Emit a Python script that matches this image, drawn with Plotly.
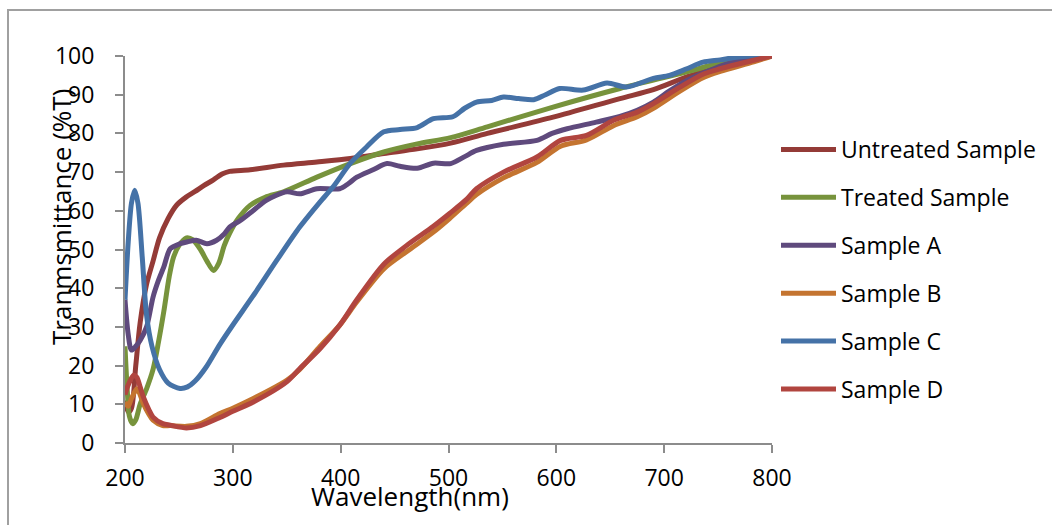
import plotly.graph_objects as go

# ---------------- data ----------------
wl_untreated = [200, 203, 206, 210, 214, 220, 226, 232, 240, 248, 257, 265, 273, 282, 290, 297, 316, 347, 378, 409, 440, 471, 502, 536, 597, 659, 690, 721, 752, 783, 800]
t_untreated = [11, 8, 9, 20, 31, 41, 47, 53, 58, 61.5, 63.6, 65, 66.5, 68, 69.5, 70.2, 70.6, 71.8, 72.6, 73.5, 74.8, 76, 77.5, 80, 84.2, 89, 91.3, 94.6, 97.2, 98.9, 100]

wl_treated = [200, 202, 204, 207, 210, 214, 220, 226, 231, 236, 241, 245, 250, 257, 263, 270, 276, 282, 287, 292, 297, 305, 316, 330, 347, 378, 409, 440, 471, 502, 536, 597, 659, 721, 767, 800]
t_treated = [25, 14, 7, 5, 6, 10, 14, 19, 26, 34, 43, 48, 51, 53, 52.5, 50, 47, 44.6, 46.5, 51, 54.2, 58, 61.4, 63.5, 64.9, 68.7, 72.2, 75.2, 77.3, 78.9, 81.7, 86.8, 91.6, 95.9, 99.3, 100]

wl_a = [200, 203, 206, 210, 214, 220, 226, 231, 236, 242, 251, 258, 266, 276, 285, 292, 297, 307, 319, 331, 350, 362, 378, 399, 407, 415, 430, 443, 455, 471, 486, 502, 515, 526, 551, 582, 596, 610, 637, 659, 675, 690, 705, 721, 746, 767, 785, 800]
t_a = [37, 28, 24, 25, 26.5, 30, 37.7, 42, 45.5, 50.2, 51.5, 52, 52.4, 51.5, 52.4, 54, 55.8, 57.5, 60.1, 62.7, 64.9, 64.4, 65.7, 65.7, 67, 68.7, 70.6, 72.2, 71.5, 71, 72.3, 72.2, 74, 75.6, 77.2, 78.2, 80, 81.2, 82.9, 84.4, 86, 88.1, 91, 93.7, 96.7, 98.7, 99.5, 100]

wl_b = [200, 203, 206, 211, 214, 217, 222, 226, 235, 242, 257, 270, 288, 300, 319, 350, 362, 381, 399, 415, 440, 464, 486, 501, 517, 526, 551, 582, 604, 628, 653, 675, 690, 715, 737, 752, 783, 800]
t_b = [10.5, 9.5, 11.5, 14, 12.5, 10.2, 7.5, 5.9, 4.5, 4.5, 4.3, 5, 7.6, 9, 11.5, 16.2, 19, 25, 30.4, 36.5, 45, 50, 54.5, 58, 62, 64.2, 68.5, 72.5, 76.7, 78.3, 82, 84.3, 86.5, 91, 94.5, 96, 98.5, 100]

wl_c = [200, 203, 206, 209, 212, 216, 220, 225, 232, 240, 251, 258, 265, 275, 288, 300, 320, 341, 362, 380, 393, 409, 424, 440, 455, 471, 486, 504, 515, 526, 540, 551, 565, 579, 590, 603, 625, 647, 665, 690, 705, 721, 736, 752, 767, 780, 800]
t_c = [37, 52, 62, 65.3, 62, 48, 33, 25, 19, 15.5, 14.1, 14.5, 16, 19.5, 25.5, 30.5, 38.5, 47.3, 55.8, 62, 66.2, 72.3, 76.5, 80.4, 81, 81.5, 83.8, 84.3, 86.5, 88.1, 88.5, 89.4, 89, 88.7, 90, 91.6, 91.2, 93, 92, 94.2, 95, 96.7, 98.4, 99, 99.7, 100, 100]

wl_d = [200, 203, 208, 211, 214, 217, 222, 226, 235, 242, 257, 270, 288, 300, 319, 350, 362, 381, 399, 415, 440, 461, 486, 501, 517, 526, 551, 582, 604, 628, 653, 675, 690, 715, 737, 752, 783, 800]
t_d = [12.5, 15, 17.5, 17, 14.5, 11.9, 8.7, 6.7, 5, 4.6, 3.9, 4.5, 6.6, 8.2, 10.6, 15.8, 19.2, 24.4, 30.4, 37, 46.2, 51, 56, 59.3, 63, 65.7, 70, 73.9, 78.2, 79.5, 83.4, 85.5, 87.7, 92, 95.4, 96.7, 98.9, 100]

series_names = ["Untreated Sample", "Treated Sample", "Sample A", "Sample B", "Sample C", "Sample D"]
series_x = [wl_untreated, wl_treated, wl_a, wl_b, wl_c, wl_d]
series_y = [t_untreated, t_treated, t_a, t_b, t_c, t_d]
series_colors = ["#943B37", "#77933C", "#5F4A7D", "#C47430", "#4572A7", "#B1453F"]

x_ticks = [200, 300, 400, 500, 600, 700, 800]
y_ticks = [0, 10, 20, 30, 40, 50, 60, 70, 80, 90, 100]

FONT = "Open Sans"
W, H = 1052, 525
L, R, T, B = 125, 280, 56, 82

fig = go.Figure()
for i, (name, xs, ys, col) in enumerate(zip(series_names, series_x, series_y, series_colors)):
    fig.add_trace(go.Scatter(
        x=xs, y=ys, name=name, mode="lines",
        line=dict(color=col, width=5, shape="spline", smoothing=0.8),
        legendgroup=f"g{i}",
    ))

pw = W - L - R
ph = H - T - B

def px_x(p):
    return (p - L) / pw

def px_y(p):
    return (H - B - p) / ph

axis_col = "#8C8C8C"
fig.update_layout(
    width=W, height=H,
    margin=dict(l=L, r=R, t=T, b=B, autoexpand=False),
    paper_bgcolor="white", plot_bgcolor="white",
    font=dict(family=FONT, size=23, color="black"),
    showlegend=True,
    legend=dict(
        x=px_x(776), y=px_y(128), xanchor="left", yanchor="top",
        font=dict(family=FONT, size=23, color="black"),
        itemwidth=55, tracegroupgap=15, bgcolor="rgba(0,0,0,0)",
    ),
    xaxis=dict(
        range=[200, 800], tickvals=x_ticks, ticktext=[str(v) for v in x_ticks],
        showgrid=False, zeroline=False, showline=True, linecolor=axis_col, linewidth=2,
        ticks="outside", ticklen=8, tickwidth=2, tickcolor=axis_col,
        tickfont=dict(family=FONT, size=23, color="black"),
        ticklabelstandoff=5,
    ),
    yaxis=dict(
        range=[0, 100], tickvals=y_ticks, ticktext=[str(v) for v in y_ticks],
        showgrid=False, zeroline=False, showline=True, linecolor=axis_col, linewidth=2,
        ticks="outside", ticklen=8, tickwidth=2, tickcolor=axis_col,
        tickfont=dict(family=FONT, size=23, color="black"),
        ticklabelstandoff=16,
    ),
    annotations=[
        dict(text="Wavelength(nm)", x=px_x(410), y=px_y(496), xref="paper", yref="paper",
             xanchor="center", yanchor="middle", showarrow=False,
             font=dict(family=FONT, size=26, color="black")),
        dict(text="Tranmsmittance (%T)", x=px_x(61), y=px_y(217), xref="paper", yref="paper",
             xanchor="center", yanchor="middle", showarrow=False, textangle=-90,
             font=dict(family=FONT, size=26, color="black")),
    ],
    shapes=[
        dict(type="rect", xref="paper", yref="paper",
             x0=px_x(8), x1=px_x(1070), y0=px_y(540), y1=px_y(10),
             line=dict(color="#A0A0A0", width=2), fillcolor="rgba(0,0,0,0)", layer="below"),
    ],
)

fig.write_html("out.html")
